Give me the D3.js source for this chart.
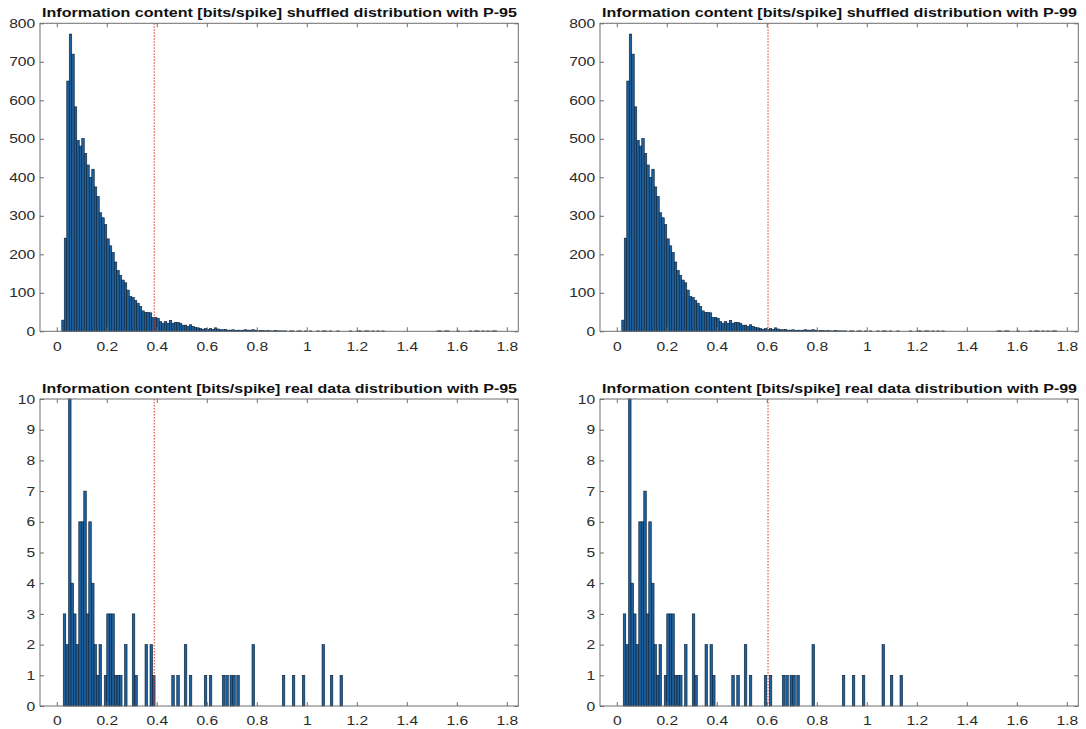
<!DOCTYPE html>
<html>
<head>
<meta charset="utf-8">
<script src="https://cdn.jsdelivr.net/npm/d3@7"></script>
<style>
  body { margin: 0; background: white; }
</style>
</head>
<body>
<div id="container"></div>
<script>
let w = 1086;
let h = 729;

// shuffled distribution: counts per 0.01 bin, first bin starts at 0.02
let shuffledStart = 0.02;
let shuffledBinWidth = 0.01;
let shuffledCounts = [
  29, 242, 650, 772, 720, 583, 496, 481, 501, 462,
  432, 400, 421, 375, 350, 308, 295, 277, 240, 222,
  205, 180, 158, 145, 133, 126, 107, 90, 88, 80,
  73, 64, 53, 49, 49, 48, 36, 36, 34, 25,
  21, 25, 21, 28, 21, 23, 23, 21, 16, 16,
  13, 17, 13, 10, 9, 7, 5, 7, 5, 7,
  5, 9, 6, 4, 4, 5, 3, 3, 4, 2,
  3, 2, 3, 4, 3, 3, 4, 3, 1, 2,
  2, 1, 2, 1, 1, 2, 1, 1, 1, 1,
  0, 1, 1, 0, 1, 1, 0, 1, 0, 1,
  0, 0, 1, 0, 1, 1, 0, 1, 0, 0,
  1, 0, 0, 0, 0, 1, 0, 0, 1, 1,
  0, 1, 1, 0, 1, 0, 1, 0, 1, 0,
  0, 0, 0, 0, 0, 0, 0, 0, 0, 0,
  0, 0, 0, 0, 0, 0, 0, 0, 0, 0,
  1, 1, 0, 1, 1, 0, 0, 0, 1, 0,
  0, 0, 0, 1, 0, 1, 1, 0, 1, 0,
  1, 0, 1, 1
];

// real data: left edge of each non-empty bin and its count
let realBinWidth = 0.0102;
let realLeft = [
  0.026, 0.037, 0.047, 0.057, 0.067, 0.077, 0.088, 0.098, 0.108, 0.118,
  0.128, 0.139, 0.149, 0.159, 0.169, 0.190, 0.200, 0.210, 0.220, 0.230,
  0.241, 0.251, 0.271, 0.302, 0.312, 0.353, 0.373, 0.383,
  0.460, 0.480, 0.510, 0.530, 0.590, 0.610, 0.662, 0.676, 0.693, 0.704,
  0.720, 0.781, 0.902, 0.942, 0.982, 1.061, 1.094, 1.133
];
let realCounts = [
  3, 2, 10, 4, 3, 2, 6, 6, 7, 3,
  6, 4, 2, 1, 2, 1, 3, 3, 3, 1,
  1, 1, 2, 3, 1, 2, 2, 1,
  1, 1, 2, 1, 1, 1, 1, 1, 1, 1,
  1, 2, 1, 1, 1, 2, 1, 1
];

let xTicks = [0, 0.2, 0.4, 0.6, 0.8, 1, 1.2, 1.4, 1.6, 1.8];
let xDomain = [-0.067, 1.846];
let shuffledYTicks = [0, 100, 200, 300, 400, 500, 600, 700, 800];
let realYTicks = [0, 1, 2, 3, 4, 5, 6, 7, 8, 9, 10];
let p95 = 0.39;
let p99 = 0.605;

let titles = [
  "Information content [bits/spike] shuffled distribution with P-95",
  "Information content [bits/spike] shuffled distribution with P-99",
  "Information content [bits/spike] real data distribution with P-95",
  "Information content [bits/spike] real data distribution with P-99"
];

let barFill = "#1d609d";
let barEdge = "#0b1f33";
let axisColor = "#6e6e6e";
let labelColor = "#2a2a2a";
let stretch = 1.2;

let viz = d3.select("#container")
  .append("svg")
    .attr("width", w)
    .attr("height", h)
    .style("background-color", "white")
    .style("font-family", "'Liberation Sans', Arial, sans-serif")
;

let shuffledBins = shuffledCounts.map(function(c, i){
  return {x0: shuffledStart + i*shuffledBinWidth, x1: shuffledStart + (i+1)*shuffledBinWidth, n: c};
}).filter(function(d){ return d.n > 0; });

let realBins = realLeft.map(function(x, i){
  return {x0: x, x1: x + realBinWidth, n: realCounts[i]};
});

let panels = [
  {left: 40, top: 23.3, height: 308, bins: shuffledBins, yMax: 800, yTicks: shuffledYTicks, p: p95, title: titles[0]},
  {left: 600, top: 23.3, height: 308, bins: shuffledBins, yMax: 800, yTicks: shuffledYTicks, p: p99, title: titles[1]},
  {left: 40, top: 399, height: 307, bins: realBins, yMax: 10, yTicks: realYTicks, p: p95, title: titles[2]},
  {left: 600, top: 399, height: 307, bins: realBins, yMax: 10, yTicks: realYTicks, p: p99, title: titles[3]}
];
let panelWidth = 478.3;

function drawPanel(p){
  let g = viz.append("g")
    .attr("transform", "translate(" + p.left + "," + p.top + ")");

  let x = d3.scaleLinear().domain(xDomain).range([0, panelWidth]);
  let y = d3.scaleLinear().domain([0, p.yMax]).range([p.height, 0]);

  g.selectAll(".bar").data(p.bins).enter()
    .append("rect")
      .attr("class", "bar")
      .attr("x", function(d){ return x(d.x0); })
      .attr("width", function(d){ return x(d.x1) - x(d.x0); })
      .attr("y", function(d){ return y(d.n); })
      .attr("height", function(d){ return p.height - y(d.n); })
      .style("fill", barFill)
      .style("stroke", barEdge)
      .style("stroke-width", 0.6)
  ;

  // percentile line
  g.append("line")
    .attr("x1", x(p.p))
    .attr("x2", x(p.p))
    .attr("y1", 0)
    .attr("y2", p.height)
    .style("stroke", "#d8352a")
    .style("stroke-width", 1)
    .style("stroke-dasharray", "1.5,1.5")
  ;

  let bottom = g.append("g")
    .attr("transform", "translate(0," + p.height + ")")
    .call(d3.axisBottom(x).tickValues(xTicks).tickSize(-4).tickPadding(10)
      .tickFormat(function(d){ return String(d); }));
  let top = g.append("g")
    .call(d3.axisTop(x).tickValues(xTicks).tickSize(-4).tickFormat(""));
  let left = g.append("g")
    .call(d3.axisLeft(y).tickValues(p.yTicks).tickSize(-4).tickPadding(4));
  let right = g.append("g")
    .attr("transform", "translate(" + panelWidth + ",0)")
    .call(d3.axisRight(y).tickValues(p.yTicks).tickSize(-4).tickFormat(""));

  [bottom, top, left, right].forEach(function(a){
    a.select(".domain").remove();
    a.selectAll("line").style("stroke", axisColor);
    a.selectAll("text")
      .style("font-size", "13px")
      .style("fill", labelColor)
      .attr("transform", "scale(" + stretch + ",1)");
  });

  // box
  g.append("rect")
    .attr("x", 0)
    .attr("y", 0)
    .attr("width", panelWidth)
    .attr("height", p.height)
    .style("fill", "none")
    .style("stroke", axisColor)
    .style("stroke-width", 1)
  ;

  g.append("text")
    .text(p.title)
    .attr("x", 2)
    .attr("y", -6)
    .attr("textLength", 475)
    .attr("lengthAdjust", "spacingAndGlyphs")
    .style("font-size", "13px")
    .style("font-weight", "bold")
    .style("fill", "#111")
  ;
}

panels.forEach(drawPanel);
</script>
</body>
</html>
